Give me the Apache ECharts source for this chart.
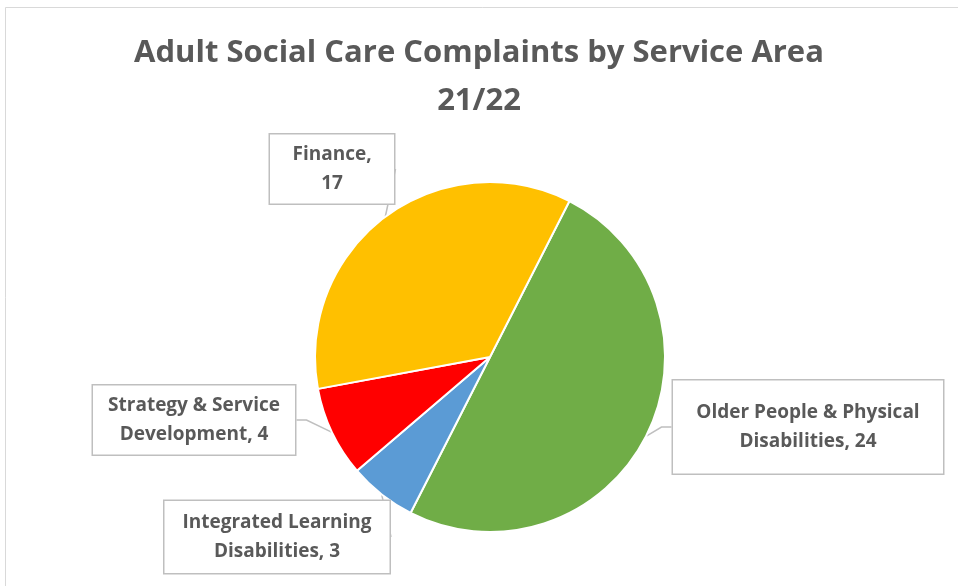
<!DOCTYPE html>
<html>
<head>
<meta charset="utf-8">
<script src="https://cdn.jsdelivr.net/npm/echarts@6/dist/echarts.min.js"></script>
<style>
  html, body { margin: 0; padding: 0; background: #fff; }
  #chart { width: 958px; height: 586px; }
</style>
</head>
<body>
<div id="chart"></div>
<script>
// data
const categories = ['Older People & Physical Disabilities', 'Integrated Learning Disabilities', 'Strategy & Service Development', 'Finance']
const complaints = [24, 3, 4, 17]
const labelNames = ['Older People & Physical\nDisabilities', 'Integrated Learning\nDisabilities', 'Strategy & Service\nDevelopment', 'Finance']

const colors = ['#70AD47', '#5B9BD5', '#FF0000', '#FFC000']
// callout boxes: centre x, centre y, width, height
const boxes = [
  [808, 427, 270, 93],
  [277, 537, 225, 72],
  [194, 420, 202, 69],
  [332, 169, 124, 69]
]

const chart = echarts.init(document.getElementById('chart'))

const option = {
  backgroundColor: '#fff',
  title: {
    text: 'Adult Social Care Complaints by Service Area\n21/22',
    left: 'center',
    top: 24,
    textStyle: {
      fontFamily: 'Open Sans',
      fontWeight: 'bold',
      fontSize: 31,
      lineHeight: 48,
      color: '#595959'
    }
  },
  graphic: [{
    type: 'rect',
    shape: { x: 5.5, y: 7.5, width: 1000, height: 1000 },
    style: { fill: 'none', stroke: '#d9d9d9', lineWidth: 1 },
    silent: true
  }],
  series: [{
    type: 'pie',
    center: [490, 357],
    radius: 175,
    startAngle: 63,
    clockwise: true,
    avoidLabelOverlap: false,
    itemStyle: {
      borderColor: '#fff',
      borderWidth: 2
    },
    label: {
      show: true,
      fontFamily: 'Open Sans',
      fontWeight: 'bold',
      fontSize: 19,
      lineHeight: 29,
      color: '#595959',
      backgroundColor: '#fff',
      borderColor: '#bfbfbf',
      borderWidth: 1.5,
      formatter: p => {
        const n = labelNames[p.dataIndex]
        return n + (n.indexOf('\n') >= 0 ? ', ' : ',\n') + p.value
      }
    },
    labelLine: {
      show: true,
      length: 10,
      length2: 10,
      lineStyle: { color: '#bfbfbf', width: 1.5 }
    },
    labelLayout: p => {
      const b = boxes[p.dataIndex]
      return { x: b[0], y: b[1], align: 'center', verticalAlign: 'middle' }
    },
    data: categories.map((name, i) => ({
      name: name,
      value: complaints[i],
      itemStyle: { color: colors[i] },
      label: {
        width: boxes[i][2],
        padding: [(boxes[i][3] - 58) / 2, 0]
      }
    }))
  }]
}

chart.setOption(option)
</script>
</body>
</html>
